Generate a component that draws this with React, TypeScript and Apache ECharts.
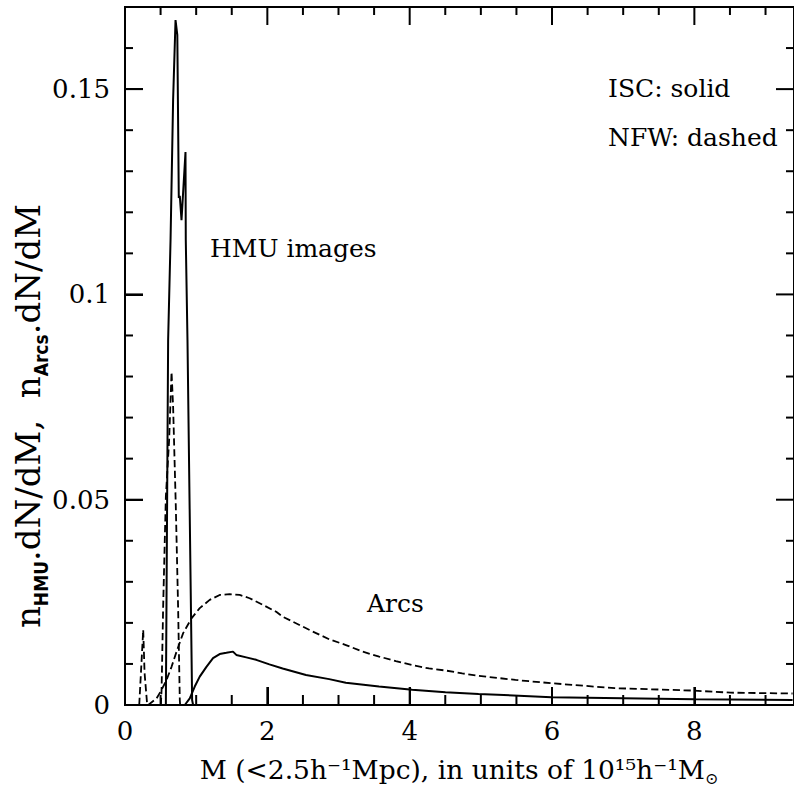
import React, { useEffect, useRef } from "react";
import * as echarts from "echarts";

// ---- data ----
const X_MAX = 9.4;
const Y_MAX = 0.17;

const xMajorStep = 2;
const yMajorStep = 0.05;

// tick positions of the frame (values on the axes)
const xMajorTickValues = [2, 4, 6, 8];
const xMinorTickValues = [0.5, 1, 1.5, 2.5, 3, 3.5, 4.5, 5, 5.5, 6.5, 7, 7.5, 8.5, 9];
const yMajorTickValues = [0.05, 0.1, 0.15];
const yMinorTickValues = [0.01, 0.02, 0.03, 0.04, 0.06, 0.07, 0.08, 0.09, 0.11, 0.12, 0.13, 0.14, 0.16];

// ISC (solid) – HMU images
const iscHmu: [number, number][] = [
  [0.5, 0], [0.574, 0], [0.606, 0.0889], [0.64, 0.1133], [0.676, 0.1474],
  [0.71, 0.1668], [0.735, 0.1632], [0.756, 0.1235], [0.77, 0.124],
  [0.794, 0.1181], [0.85, 0.1347], [0.854, 0.1133], [0.878, 0.0889],
  [0.943, 0.0012], [0.957, 0],
];

// ISC (solid) – Arcs
const iscArcs: [number, number][] = [
  [0.84, 0], [0.91, 0.0016], [0.98, 0.0045], [1.05, 0.0069], [1.144, 0.0093],
  [1.237, 0.0114], [1.33, 0.0124], [1.424, 0.0127], [1.517, 0.013],
  [1.564, 0.0122], [1.704, 0.0116], [1.844, 0.011], [2.029, 0.0099],
  [2.215, 0.0089], [2.543, 0.0073], [2.869, 0.0063], [3.103, 0.0054],
  [3.569, 0.0045], [4.035, 0.0037], [4.502, 0.0031], [4.968, 0.0027],
  [5.99, 0.0019], [8.0, 0.0014], [9.38, 0.0012],
];

// NFW (dashed) – small low-mass spike
const nfwSpike: [number, number][] = [
  [0.2, 0], [0.256, 0.0183], [0.275, 0.0078], [0.312, 0],
];

// NFW (dashed) – HMU images
const nfwHmu: [number, number][] = [
  [0.504, 0], [0.514, 0.0037], [0.536, 0.0239], [0.574, 0.0507],
  [0.62, 0.0645], [0.654, 0.0811], [0.676, 0.0727], [0.714, 0.0483],
  [0.746, 0.0239], [0.77, 0.0012], [0.775, 0],
];

// NFW (dashed) – Arcs
const nfwArcs: [number, number][] = [
  [0.326, 0], [0.444, 0.0016], [0.514, 0.0037], [0.584, 0.0061],
  [0.654, 0.0093], [0.724, 0.013], [0.817, 0.0175], [0.934, 0.0211],
  [1.05, 0.0236], [1.19, 0.0256], [1.33, 0.0268], [1.47, 0.027],
  [1.611, 0.0268], [1.751, 0.026], [1.937, 0.0244], [2.125, 0.0227],
  [2.217, 0.0215], [2.451, 0.0195], [2.637, 0.0179], [2.871, 0.016],
  [3.104, 0.0146], [3.337, 0.013], [3.571, 0.0118], [3.805, 0.0107],
  [4.038, 0.0097], [4.272, 0.0089], [4.505, 0.0084], [4.738, 0.0077],
  [4.972, 0.0071], [5.486, 0.0061], [5.99, 0.0053], [6.881, 0.0041],
  [8.0, 0.0035], [8.51, 0.003], [9.38, 0.0028],
];

const SERIF = '"DejaVu Serif", "Liberation Serif", serif';
const SUBFONT = '"DejaVu Sans Condensed", "Liberation Sans Narrow", "DejaVu Sans", sans-serif';

const W = 794;
const H = 789;
const GRID = { left: 125, right: -3, top: 7, bottom: 84 };

type Side = "bottom" | "top" | "left" | "right";

export default function App() {
  const ref = useRef<HTMLDivElement>(null);

  useEffect(() => {
    if (!ref.current) return;
    const chart = echarts.init(ref.current, undefined, { renderer: "svg" });
    const black = "#000";

    // inward tick marks on all four sides, positioned through the axes' scales
    const tickSeries = (values: number[], side: Side, len: number): any => {
      const isX = side === "bottom" || side === "top";
      return {
        type: "custom",
        clip: false,
        encode: isX ? { x: 0, y: 1 } : { x: 1, y: 0 },
        data: values.map((v) => [v, 0]),
        renderItem: (params: any, api: any) => {
          const v = api.value(0);
          let p: number[];
          let q: number[];
          if (side === "bottom") { p = api.coord([v, 0]); q = [p[0], p[1] - len]; }
          else if (side === "top") { p = api.coord([v, Y_MAX]); q = [p[0], p[1] + len]; }
          else if (side === "left") { p = api.coord([0, v]); q = [p[0] + len, p[1]]; }
          else { p = api.coord([X_MAX, v]); q = [p[0] - len, p[1]]; }
          const horiz = side === "left" || side === "right";
          return {
            type: "rect",
            shape: horiz
              ? { x: Math.min(p[0], q[0]), y: p[1] - 1, width: len, height: 2 }
              : { x: p[0] - 1, y: Math.min(p[1], q[1]), width: 2, height: len },
            style: { fill: "#000" },
          };
        },
      };
    };

    const line = (data: [number, number][], dashed: boolean): any => ({
      type: "line",
      data,
      showSymbol: false,
      symbol: "none",
      smooth: false,
      clip: false,
      lineStyle: { color: black, width: dashed ? 1.8 : 2, type: dashed ? "dashed" : "solid" },
    });

    const annot = (text: string, x: number, y: number) => ({
      type: "text",
      x,
      y,
      style: {
        text,
        fill: black,
        font: `25px ${SERIF}`,
        align: "left",
        verticalAlign: "middle",
        textAlign: "left",
        textVerticalAlign: "middle",
      },
    });

    chart.setOption({
      animation: false,
      backgroundColor: "#fff",
      grid: {
        ...GRID,
        show: true, borderColor: black, borderWidth: 2, backgroundColor: "transparent",
      },
      xAxis: {
        type: "value", min: 0, max: X_MAX, interval: xMajorStep,
        axisLine: { show: true, lineStyle: { color: black, width: 2 } },
        axisTick: { show: true, inside: true, length: 18, lineStyle: { color: black, width: 2 } },
        axisLabel: { show: true, margin: 13, fontSize: 26, fontFamily: SERIF, color: black, showMaxLabel: false },
        splitLine: { show: false },
      },
      yAxis: {
        type: "value", min: 0, max: Y_MAX, interval: yMajorStep,
        axisLine: { show: true, lineStyle: { color: black, width: 2 } },
        axisTick: { show: true, inside: true, length: 18, lineStyle: { color: black, width: 2 } },
        axisLabel: { show: true, margin: 15, fontSize: 26, fontFamily: SERIF, color: black, showMaxLabel: false },
        splitLine: { show: false },
      },
      series: [
        tickSeries(xMajorTickValues, "bottom", 18),
        tickSeries(xMinorTickValues, "bottom", 10),
        tickSeries(xMajorTickValues, "top", 18),
        tickSeries(xMinorTickValues, "top", 8),
        tickSeries(yMajorTickValues, "left", 18),
        tickSeries(yMinorTickValues, "left", 8),
        tickSeries(yMajorTickValues, "right", 18),
        tickSeries(yMinorTickValues, "right", 8),
        line(iscHmu, false),
        line(iscArcs, false),
        line(nfwSpike, true),
        line(nfwHmu, true),
        line(nfwArcs, true),
      ],
      graphic: [
        annot("HMU images", 210, 248),
        annot("ISC: solid", 608, 88),
        annot("NFW: dashed", 608, 137),
        annot("Arcs", 367, 603),
        {
          type: "text",
          x: 459,
          y: 772,
          style: {
            text: "{a|M (<2.5h⁻¹Mpc), in units of 10¹⁵h⁻¹M}{s|⊙}",
            fill: black,
            align: "center",
            verticalAlign: "middle",
            textAlign: "center",
            textVerticalAlign: "middle",
            rich: {
              a: { fontSize: 26.5, fontFamily: SERIF, fill: black, verticalAlign: "bottom", padding: [0, 0, 6, 0] },
              s: { fontSize: 16, fontFamily: SERIF, fill: black, verticalAlign: "bottom", padding: [0, 0, 2, 0] },
            },
          },
        },
        {
          type: "text",
          x: 31,
          y: 416,
          rotation: Math.PI / 2,
          style: {
            text: "{a|n}{s|HMU}{a|.dN/dM,  n}{s|Arcs}{a|.dN/dM}",
            fill: black,
            align: "center",
            verticalAlign: "middle",
            textAlign: "center",
            textVerticalAlign: "middle",
            rich: {
              a: { fontSize: 34, fontFamily: SERIF, fill: black, verticalAlign: "bottom", padding: [0, 0, 7, 0] },
              s: { fontSize: 19, fontFamily: SUBFONT, fontWeight: "bold", fill: black, verticalAlign: "bottom", padding: [0, 0, 1, 0] },
            },
          },
        },
      ],
    });
    return () => chart.dispose();
  }, []);

  return <div ref={ref} style={{ position: "fixed", left: 0, top: 0, width: W, height: H }} />;
}
